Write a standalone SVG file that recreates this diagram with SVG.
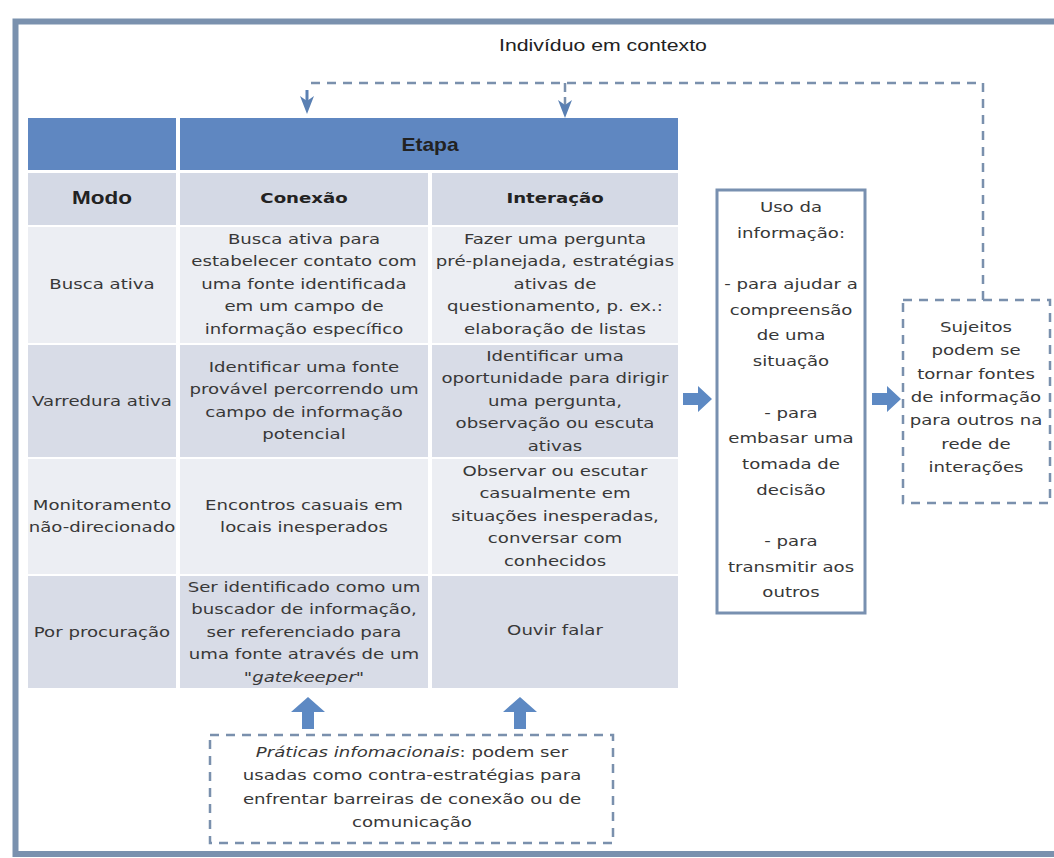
<svg xmlns="http://www.w3.org/2000/svg" width="1054" height="858" viewBox="0 0 1054 858">
<style>
.t{font-family:"DejaVu Sans",Verdana,sans-serif;font-size:14.5px;fill:#383838;text-anchor:middle}
.b{font-weight:bold;fill:#222}
.a{font-family:"Liberation Sans",Arial,sans-serif;text-anchor:middle;fill:#222}
.hdr{fill:#5f87c1}
.r1{fill:#d4d9e5}
.r2{fill:#eceef3}
.r3{fill:#d8dce7}
.dash{fill:none;stroke:#7a90ad;stroke-width:2.5;stroke-dasharray:9 7}
.blk{fill:#5d89c3}
.head{fill:#5a80b3}
</style>
<rect width="1054" height="858" fill="#fff"/>
<path d="M1060,21.5 H15.5 V854 H1060" fill="none" stroke="#7a91ae" stroke-width="6"/>
<text class="a" font-size="17" transform="translate(603 0) scale(1.25 1)" x="0" y="51">Indivíduo em contexto</text>

<g id="table">
<rect class="hdr" x="28" y="118" width="148" height="52"/>
<rect class="hdr" x="180" y="118" width="498" height="52"/>
<text class="a b" font-size="17.5" transform="translate(430 0) scale(1.2 1)" x="0" y="151">Etapa</text>
<rect class="r1" x="28" y="173" width="148" height="52"/>
<rect class="r1" x="180" y="173" width="248" height="52"/>
<rect class="r1" x="432" y="173" width="246" height="52"/>
<text class="a b" font-size="18" transform="translate(102 0) scale(1.25 1)" x="0" y="204.5">Modo</text>
<text class="t b" transform="translate(304 0) scale(1.25 1)" x="0" y="203">Conexão</text>
<text class="t b" transform="translate(555 0) scale(1.25 1)" x="0" y="203">Interação</text>

<rect class="r2" x="28" y="227" width="148" height="116"/>
<rect class="r2" x="180" y="227" width="248" height="116"/>
<rect class="r2" x="432" y="227" width="246" height="116"/>
<text class="t" transform="translate(102 0) scale(1.25 1)" x="0" y="289">Busca ativa</text>
<text class="t" transform="translate(304 0) scale(1.25 1)"><tspan x="0" y="244">Busca ativa para</tspan><tspan x="0" y="266.5">estabelecer contato com</tspan><tspan x="0" y="289">uma fonte identificada</tspan><tspan x="0" y="311.5">em um campo de</tspan><tspan x="0" y="334">informação específico</tspan></text>
<text class="t" transform="translate(555 0) scale(1.25 1)"><tspan x="0" y="244">Fazer uma pergunta</tspan><tspan x="0" y="266.5">pré-planejada, estratégias</tspan><tspan x="0" y="289">ativas de</tspan><tspan x="0" y="311.5">questionamento, p. ex.:</tspan><tspan x="0" y="334">elaboração de listas</tspan></text>

<rect class="r3" x="28" y="345" width="148" height="112"/>
<rect class="r3" x="180" y="345" width="248" height="112"/>
<rect class="r3" x="432" y="345" width="246" height="112"/>
<text class="t" transform="translate(102 0) scale(1.25 1)" x="0" y="406">Varredura ativa</text>
<text class="t" transform="translate(304 0) scale(1.25 1)"><tspan x="0" y="372">Identificar uma fonte</tspan><tspan x="0" y="394.5">provável percorrendo um</tspan><tspan x="0" y="417">campo de informação</tspan><tspan x="0" y="439.5">potencial</tspan></text>
<text class="t" transform="translate(555 0) scale(1.25 1)"><tspan x="0" y="361">Identificar uma</tspan><tspan x="0" y="383.5">oportunidade para dirigir</tspan><tspan x="0" y="406">uma pergunta,</tspan><tspan x="0" y="428.5">observação ou escuta</tspan><tspan x="0" y="451">ativas</tspan></text>

<rect class="r2" x="28" y="459" width="148" height="115"/>
<rect class="r2" x="180" y="459" width="248" height="115"/>
<rect class="r2" x="432" y="459" width="246" height="115"/>
<text class="t" transform="translate(102 0) scale(1.25 1)"><tspan x="0" y="510">Monitoramento</tspan><tspan x="0" y="532.5">não-direcionado</tspan></text>
<text class="t" transform="translate(304 0) scale(1.25 1)"><tspan x="0" y="510">Encontros casuais em</tspan><tspan x="0" y="532.5">locais inesperados</tspan></text>
<text class="t" transform="translate(555 0) scale(1.25 1)"><tspan x="0" y="476">Observar ou escutar</tspan><tspan x="0" y="498.5">casualmente em</tspan><tspan x="0" y="521">situações inesperadas,</tspan><tspan x="0" y="543.5">conversar com</tspan><tspan x="0" y="566">conhecidos</tspan></text>

<rect class="r3" x="28" y="576" width="148" height="112"/>
<rect class="r3" x="180" y="576" width="248" height="112"/>
<rect class="r3" x="432" y="576" width="246" height="112"/>
<text class="t" transform="translate(102 0) scale(1.25 1)" x="0" y="637">Por procuração</text>
<text class="t" transform="translate(304 0) scale(1.25 1)"><tspan x="0" y="592">Ser identificado como um</tspan><tspan x="0" y="614.5">buscador de informação,</tspan><tspan x="0" y="637">ser referenciado para</tspan><tspan x="0" y="659.5">uma fonte através de um</tspan><tspan x="0" y="682">"<tspan font-style="italic">gatekeeper</tspan>"</tspan></text>
<text class="t" transform="translate(555 0) scale(1.25 1)" x="0" y="635">Ouvir falar</text>
</g>

<g id="uso">
<rect x="717" y="190" width="148" height="423" fill="#fff" stroke="#7890b0" stroke-width="3"/>
<text class="t" transform="translate(791 0) scale(1.25 1)"><tspan x="0" y="212">Uso da</tspan><tspan x="0" y="237.7">informação:</tspan><tspan x="0" y="289.1">- para ajudar a</tspan><tspan x="0" y="314.8">compreensão</tspan><tspan x="0" y="340.5">de uma</tspan><tspan x="0" y="366.2">situação</tspan><tspan x="0" y="417.6">- para</tspan><tspan x="0" y="443.3">embasar uma</tspan><tspan x="0" y="469">tomada de</tspan><tspan x="0" y="494.7">decisão</tspan><tspan x="0" y="546.1">- para</tspan><tspan x="0" y="571.8">transmitir aos</tspan><tspan x="0" y="597.5">outros</tspan></text>
</g>

<g id="sujeitos">
<rect class="dash" x="903" y="300" width="147" height="203"/>
<text class="t" transform="translate(976 0) scale(1.25 1)"><tspan x="0" y="332">Sujeitos</tspan><tspan x="0" y="355.3">podem se</tspan><tspan x="0" y="378.6">tornar fontes</tspan><tspan x="0" y="402">de informação</tspan><tspan x="0" y="425.3">para outros na</tspan><tspan x="0" y="448.6">rede de</tspan><tspan x="0" y="472">interações</tspan></text>
</g>

<g id="praticas">
<rect class="dash" x="210" y="735" width="403" height="108"/>
<text class="t" transform="translate(412 0) scale(1.25 1)"><tspan x="0" y="757"><tspan font-style="italic">Práticas infomacionais</tspan>: podem ser</tspan><tspan x="0" y="780.5">usadas como contra-estratégias para</tspan><tspan x="0" y="804">enfrentar barreiras de conexão ou de</tspan><tspan x="0" y="827.5">comunicação</tspan></text>
</g>

<g id="connectors">
<path class="dash" d="M983,300 V83 H307"/>
<path d="M307,90 V104" stroke="#5a80b3" stroke-width="3" fill="none"/>
<path class="head" d="M300,96 L307,114 L314,96 L307,101 Z"/>
<path d="M565,83 V108" stroke="#7a90ad" stroke-width="2.5" stroke-dasharray="9 5" fill="none"/>
<path class="head" d="M558,100 L565,118 L572,100 L565,105 Z"/>
<path class="blk" d="M683,393 H698 V386 L712,399 L698,412 V405 H683 Z"/>
<path class="blk" d="M872,393 H887 V386 L901,399 L887,412 V405 H872 Z"/>
<path class="blk" d="M302,729 V712 H291 L308,697 L325,712 H314 V729 Z"/>
<path class="blk" d="M514,729 V712 H503 L520,697 L537,712 H526 V729 Z"/>
</g>
</svg>
